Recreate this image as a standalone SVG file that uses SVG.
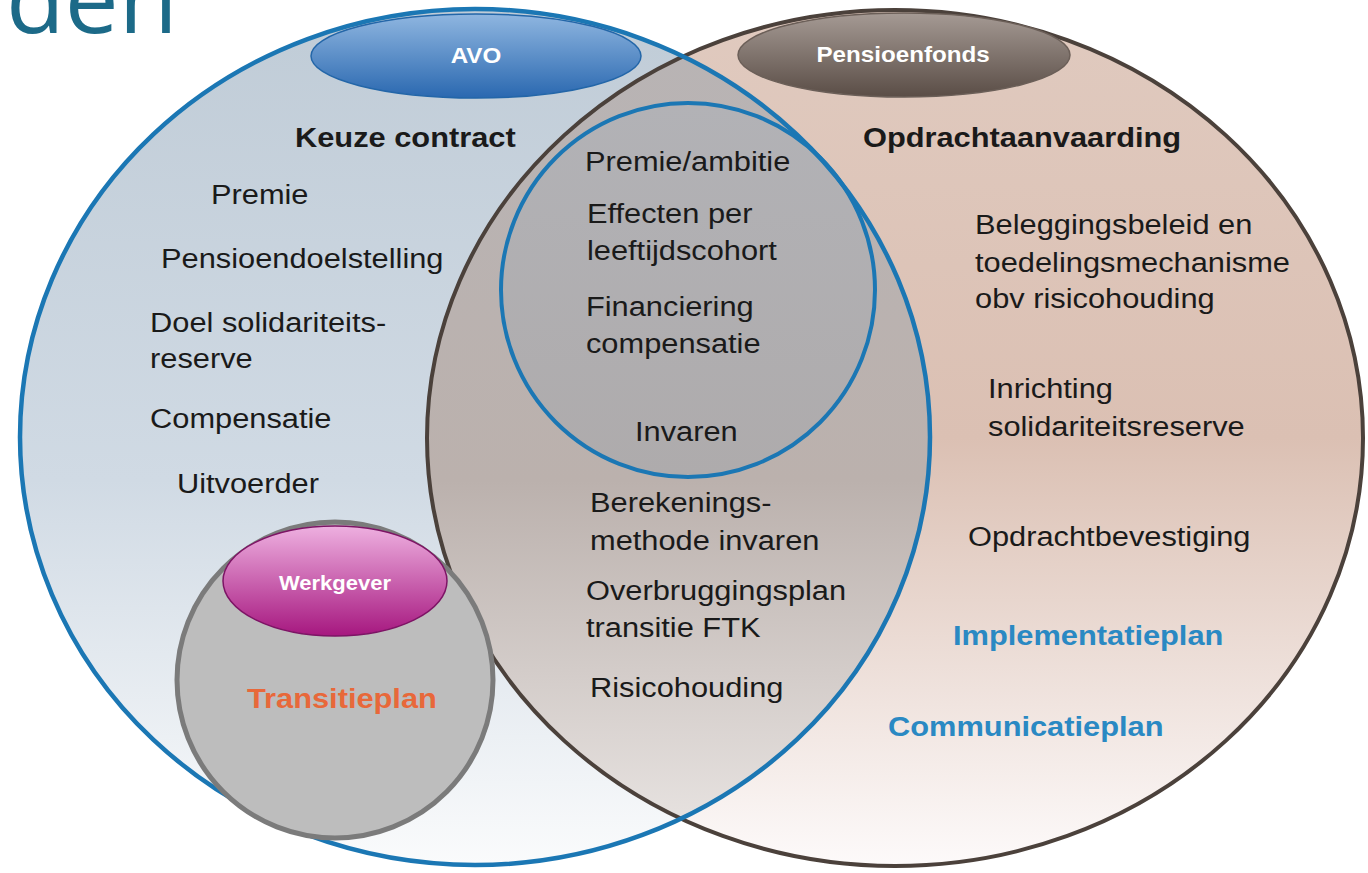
<svg xmlns="http://www.w3.org/2000/svg" width="1368" height="873" viewBox="0 0 1368 873">
<style>
.t{font-family:"Liberation Sans",Arial,sans-serif;font-size:28px;fill:#1a1a1a}
.b{font-weight:bold}
.blue{fill:#2a89c3;font-weight:bold}
.org{fill:#e8683a;font-weight:bold}
.lbl{font-family:"Liberation Sans",Arial,sans-serif;font-weight:bold;fill:#ffffff;text-anchor:middle}
.title{font-family:"Open Sans","Noto Sans",sans-serif;font-weight:400;font-size:96px;fill:#1c6a88}
</style>
<defs>
<linearGradient id="gL" x1="0" y1="0" x2="0" y2="1">
<stop offset="0" stop-color="#c0ccd7"/>
<stop offset="0.55" stop-color="#d0dae4"/>
<stop offset="1" stop-color="#fafbfc"/>
</linearGradient>
<linearGradient id="gR" x1="0" y1="0" x2="0" y2="1">
<stop offset="0" stop-color="#e0cabf"/>
<stop offset="0.5" stop-color="#dbc0b3"/>
<stop offset="1" stop-color="#fdfafa"/>
</linearGradient>
<linearGradient id="gO" x1="0" y1="0" x2="0" y2="1">
<stop offset="0" stop-color="#b8b4b5"/>
<stop offset="0.55" stop-color="#bbb1ad"/>
<stop offset="1" stop-color="#ece8e6"/>
</linearGradient>
<linearGradient id="gI" x1="0" y1="0" x2="0" y2="1">
<stop offset="0" stop-color="#b2b2b6"/>
<stop offset="1" stop-color="#aeabac"/>
</linearGradient>
<linearGradient id="gAVO" x1="0" y1="0" x2="0" y2="1">
<stop offset="0" stop-color="#8fb6e0"/>
<stop offset="1" stop-color="#2a68b0"/>
</linearGradient>
<linearGradient id="gPF" x1="0" y1="0" x2="0" y2="1">
<stop offset="0" stop-color="#a59a94"/>
<stop offset="1" stop-color="#5a4d46"/>
</linearGradient>
<linearGradient id="gWG" x1="0" y1="0" x2="0" y2="1">
<stop offset="0" stop-color="#eeb0e0"/>
<stop offset="1" stop-color="#a6177f"/>
</linearGradient>
<clipPath id="clipL">
<ellipse cx="475" cy="437" rx="455" ry="428"/>
</clipPath>
</defs>

<text class="title" x="6" y="33">den</text>

<g id="fills">
<ellipse cx="475" cy="437" rx="455" ry="428" fill="url(#gL)"/>
<ellipse cx="895" cy="438" rx="468" ry="428" fill="url(#gR)"/>
<ellipse cx="895" cy="438" rx="468" ry="428" fill="url(#gO)" clip-path="url(#clipL)"/>
<circle cx="688" cy="290" r="187" fill="url(#gI)"/>
</g>

<g id="pensioenfonds">
<ellipse cx="895" cy="438" rx="468" ry="428" fill="none" stroke="#4b413b" stroke-width="4"/>
<ellipse cx="904" cy="55" rx="166" ry="42" fill="url(#gPF)" stroke="#6b5f58" stroke-width="1.5"/>
</g>

<g id="avo">
<ellipse cx="475" cy="437" rx="455" ry="428" fill="none" stroke="#1b77b4" stroke-width="4.5"/>
<ellipse cx="476" cy="56" rx="165" ry="42" fill="url(#gAVO)" stroke="#2366a8" stroke-width="1.5"/>
</g>

<g id="gezamenlijk">
<circle cx="688" cy="290" r="187" fill="none" stroke="#1b77b4" stroke-width="4"/>
</g>

<g id="werkgever">
<circle cx="335" cy="680" r="158" fill="#bdbdbd" stroke="#7b7b7b" stroke-width="5"/>
<ellipse cx="335" cy="581" rx="112" ry="55" fill="url(#gWG)" stroke="#7d1465" stroke-width="1.5"/>
</g>

<g id="labels" transform="scale(1.1,1)">
<text class="lbl" x="432.7" y="63" font-size="22">AVO</text>
<text class="lbl" x="821" y="62" font-size="22">Pensioenfonds</text>
<text class="lbl" x="304.5" y="590" font-size="20">Werkgever</text>

<text class="t b" x="268.2" y="147">Keuze contract</text>
<text class="t" x="191.8" y="204">Premie</text>
<text class="t" x="146.4" y="268">Pensioendoelstelling</text>
<text class="t" x="136.4" y="332">Doel solidariteits-</text>
<text class="t" x="136.4" y="368">reserve</text>
<text class="t" x="136.4" y="428">Compensatie</text>
<text class="t" x="160.9" y="493">Uitvoerder</text>
<text class="t org" x="224.5" y="708">Transitieplan</text>

<text class="t" x="531.8" y="171">Premie/ambitie</text>
<text class="t" x="533.6" y="223">Effecten per</text>
<text class="t" x="533.6" y="260">leeftijdscohort</text>
<text class="t" x="532.7" y="316">Financiering</text>
<text class="t" x="532.7" y="353">compensatie</text>
<text class="t" x="577.3" y="441">Invaren</text>
<text class="t" x="536.4" y="512">Berekenings-</text>
<text class="t" x="536.4" y="550">methode invaren</text>
<text class="t" x="532.7" y="600">Overbruggingsplan</text>
<text class="t" x="532.7" y="637">transitie FTK</text>
<text class="t" x="536.4" y="697">Risicohouding</text>

<text class="t b" x="784.5" y="147">Opdrachtaanvaarding</text>
<text class="t" x="886.4" y="234">Beleggingsbeleid en</text>
<text class="t" x="886.4" y="272">toedelingsmechanisme</text>
<text class="t" x="886.4" y="308">obv risicohouding</text>
<text class="t" x="898.2" y="398">Inrichting</text>
<text class="t" x="898.2" y="436">solidariteitsreserve</text>
<text class="t" x="880" y="546">Opdrachtbevestiging</text>
<text class="t blue" x="866.4" y="645">Implementatieplan</text>
<text class="t blue" x="807.3" y="736">Communicatieplan</text>
</g>
</svg>
